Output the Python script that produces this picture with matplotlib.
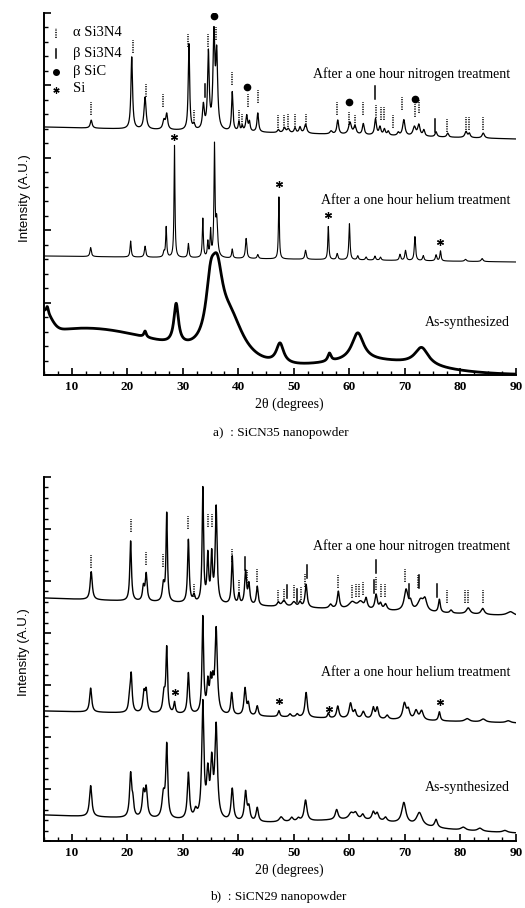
import numpy as np
import matplotlib
matplotlib.use("Agg")
import matplotlib.pyplot as plt
from matplotlib.ticker import MultipleLocator, NullFormatter

plt.rcParams['font.family'] = ['Liberation Serif', 'DejaVu Serif']

# ---- data (2theta in degrees, intensity in arbitrary units) ----
# panel a : SiCN35
a_nit_base = (248, 236)
a_nit_pos = [13.5, 20.8, 23.2, 26.6, 27.1, 31.1, 32.0, 33.7, 34.6, 35.6, 36.1, 38.9, 40.1, 40.7,
             41.5, 42.0, 43.5, 47.2, 48.3, 49.0, 50.2, 51.1, 52.1, 56.7, 57.9, 60.1, 61.0, 62.5,
             64.7, 65.5, 66.3, 67.0, 68.8, 69.8, 71.7, 72.5, 73.4, 75.6, 77.7, 81.0, 81.6, 84.1]
a_nit_h = [8, 72, 32, 9, 15, 86, 5, 24, 76, 92, 72, 39, 9, 5,
           16, 9, 19, 3, 5, 4, 5, 6, 9, 3, 14, 12, 8, 11,
           16, 8, 6, 4, 3, 16, 9, 11, 6, 5, 4, 6, 4, 5]
a_nit_w = [0.4, 0.35, 0.45, 0.5, 0.4, 0.3, 0.4, 0.4, 0.35, 0.4, 0.4, 0.3, 0.3, 0.3,
           0.4, 0.3, 0.35, 0.4, 0.5, 0.5, 0.4, 0.4, 0.5, 0.5, 0.4, 0.6, 0.5, 0.4,
           0.4, 0.4, 0.4, 0.4, 0.4, 0.5, 0.6, 0.5, 0.4, 0.4, 0.4, 0.5, 0.4, 0.5]

a_hel_base = (119, 113)
a_hel_pos = [13.4, 20.6, 23.2, 26.6, 27.0, 28.5, 31.0, 33.6, 34.5, 35.0, 35.7, 36.1, 38.9, 41.4,
             43.5, 47.3, 52.1, 56.2, 57.8, 60.0, 61.5, 63.0, 64.6, 65.6, 69.1, 70.1, 71.8, 73.3,
             75.6, 76.4, 80.9, 83.9]
a_hel_h = [9, 16, 11, 5, 30, 112, 14, 39, 15, 26, 108, 36, 9, 20,
           4, 62, 9, 33, 6, 36, 4, 3, 4, 3, 6, 10, 24, 5,
           6, 10, 2, 3]
a_hel_w = [0.3, 0.25, 0.3, 0.3, 0.22, 0.2, 0.25, 0.22, 0.22, 0.22, 0.22, 0.4, 0.25, 0.3,
           0.3, 0.2, 0.3, 0.22, 0.3, 0.25, 0.3, 0.3, 0.3, 0.3, 0.3, 0.3, 0.28, 0.3,
           0.3, 0.25, 0.4, 0.4]

a_syn_base = (0, 0)
a_syn_pos = [5.6, 23.2, 28.8, 35.0, 36.2, 38.5, 47.5, 56.4, 61.5, 73.0]
a_syn_h = [6, 6, 40, 50, 60, 42, 20, 8, 28, 18]
a_syn_w = [0.4, 0.5, 1.0, 2.0, 2.4, 6.0, 1.6, 0.7, 2.6, 3.0]
a_syn_hump_pos = [5.0, 12.0, 64.0]
a_syn_hump_h = [22, 46, 13]
a_syn_hump_w = [3.0, 36.0, 24.0]

# panel b : SiCN29
b_nit_base = (243, 225)
b_nit_pos = [13.5, 20.6, 22.9, 23.4, 26.5, 27.1, 31.0, 32.0, 33.6, 34.5, 35.2, 36.0, 38.9, 40.1,
             41.3, 41.9, 43.4, 47.2, 48.2, 50.0, 51.1, 52.2, 56.6, 58.0, 60.5, 62.0, 63.0, 64.8,
             65.6, 66.5, 70.2, 71.0, 72.8, 73.6, 76.2, 78.3, 81.4, 84.0, 89.0]
b_nit_h = [28, 60, 14, 27, 17, 88, 63, 7, 114, 46, 46, 96, 48, 10,
           33, 20, 19, 4, 6, 5, 5, 23, 4, 17, 7, 7, 10, 15,
           6, 6, 21, 8, 11, 11, 13, 3, 6, 6, 4]
b_nit_w = [0.45, 0.35, 0.4, 0.4, 0.45, 0.3, 0.35, 0.4, 0.3, 0.35, 0.35, 0.4, 0.35, 0.35,
           0.4, 0.4, 0.4, 0.5, 0.8, 0.8, 0.5, 0.45, 0.6, 0.45, 1.5, 1.2, 0.5, 0.5,
           0.5, 0.6, 0.8, 0.6, 1.2, 0.8, 0.4, 0.5, 0.8, 0.7, 1.5]

b_hel_base = (130, 118)
b_hel_pos = [13.4, 20.4, 20.7, 23.0, 23.4, 26.6, 27.1, 28.5, 31.0, 33.6, 34.5, 35.0, 35.4, 36.0,
             38.8, 41.2, 41.8, 43.4, 47.3, 49.3, 50.6, 52.2, 56.2, 57.9, 60.2, 61.0, 62.5, 64.3,
             65.0, 66.8, 69.9, 70.6, 72.0, 73.0, 76.2, 81.2, 84.1, 88.6]
b_hel_h = [24, 12, 37, 19, 21, 19, 64, 11, 41, 96, 28, 28, 24, 84,
           22, 27, 11, 10, 6, 3, 3, 25, 5, 12, 15, 7, 7, 11,
           11, 4, 16, 9, 9, 9, 9, 3, 3, 2]
b_hel_w = [0.45, 0.4, 0.4, 0.45, 0.45, 0.5, 0.35, 0.35, 0.4, 0.35, 0.4, 0.4, 0.4, 0.5,
           0.4, 0.45, 0.4, 0.45, 0.4, 0.5, 0.5, 0.5, 0.35, 0.5, 0.6, 0.5, 0.6, 0.5,
           0.5, 0.6, 0.7, 0.6, 0.7, 0.7, 0.4, 1.0, 1.0, 1.0]

b_syn_base = (26, 8)
b_syn_pos = [13.4, 20.6, 21.0, 22.9, 23.4, 26.5, 27.1, 31.0, 32.3, 33.6, 34.5, 35.2, 36.0, 38.9,
             41.3, 41.9, 43.4, 47.7, 49.6, 50.8, 52.1, 57.7, 60.3, 61.1, 62.4, 64.3, 65.0, 66.5,
             69.8, 72.6, 75.6, 80.5, 83.5, 88.0]
b_syn_h = [31, 43, 14, 24, 28, 23, 72, 46, 8, 115, 42, 52, 92, 32,
           29, 13, 14, 5, 4, 3, 21, 10, 6, 6, 5, 8, 7, 4,
           21, 13, 8, 3, 3, 2]
b_syn_w = [0.5, 0.45, 0.4, 0.5, 0.5, 0.6, 0.4, 0.45, 0.6, 0.45, 0.5, 0.5, 0.55, 0.5,
           0.5, 0.5, 0.5, 0.8, 0.6, 0.6, 0.6, 0.6, 1.0, 0.8, 0.6, 0.6, 0.6, 0.6,
           0.9, 1.2, 0.6, 1.0, 1.0, 1.0]
b_syn_hump_pos = [62.0]
b_syn_hump_h = [7]
b_syn_hump_w = [20.0]

# phase markers: position, lower end of the marker
a_alpha_pos = [13.5, 21.0, 23.3, 26.5, 31.0, 32.0, 34.6, 36.0, 38.9, 40.1, 40.7, 41.8, 43.5, 47.2,
               48.2, 49.0, 50.2, 52.1, 57.8, 60.0, 61.0, 62.5, 64.8, 65.6, 66.3, 67.8, 69.5, 71.8,
               72.5, 77.6, 81.0, 81.6, 84.0]
a_alpha_y = [260, 322, 278, 268, 328, 252, 328, 335, 290, 252, 248, 268, 272, 247,
             247, 248, 248, 248, 260, 250, 247, 260, 257, 255, 255, 247, 265, 258,
             262, 243, 245, 245, 245]
a_beta_pos = [34.0, 64.6, 75.5]
a_beta_y = [278, 276, 243]
a_sic_pos = [35.7, 41.5, 60.0, 71.8]
a_sic_y = [359, 288, 273, 276]
a_si_pos = [28.4, 47.3, 56.1, 76.4]
a_si_y = [238, 191, 160, 133]

b_alpha_pos = [13.5, 20.6, 23.3, 26.5, 31.0, 32.0, 34.6, 35.2, 38.9, 40.1, 41.6, 43.4, 47.2, 48.2,
               50.0, 51.2, 52.0, 57.9, 60.4, 61.1, 61.7, 62.5, 64.8, 65.6, 66.4, 70.0, 72.4, 77.6,
               80.8, 81.4, 84.0]
b_alpha_y = [273, 309, 276, 274, 312, 244, 314, 314, 279, 248, 258, 259, 238, 239,
             243, 241, 254, 253, 243, 244, 244, 246, 251, 244, 244, 259, 253, 238,
             238, 238, 238]
b_beta_pos = [36.0, 41.2, 48.8, 50.5, 52.3, 64.4, 64.8, 70.8, 72.6, 75.8]
b_beta_y = [318, 271, 243, 239, 263, 248, 268, 244, 253, 244]
b_si_pos = [28.6, 47.3, 56.3, 76.3]
b_si_y = [149, 140, 132, 139]

legend_labels = [u'\u03b1 Si3N4', u'\u03b2 Si3N4', u'\u03b2 SiC', 'Si']
trace_labels = ['After a one hour nitrogen treatment', 'After a one hour helium treatment',
                'As-synthesized']
a_label_y = [301, 175, 52]
b_label_y = [295, 169, 53]

x = np.linspace(5, 90, 8501)


def lor(pos, h, w):
    out = np.zeros_like(x)
    for p, hh, ww in zip(pos, h, w):
        out += hh / (1 + ((x - p) / (ww / 2.0)) ** 2)
    return out


def gau(pos, h, w):
    out = np.zeros_like(x)
    for p, hh, ww in zip(pos, h, w):
        out += hh * np.exp(-4 * np.log(2) * ((x - p) / ww) ** 2)
    return out


def trace(base, pos, h, w):
    b = base[0] + (base[1] - base[0]) * (x - 5) / 85.0
    return b + lor(pos, h, w)


def markers(ax, pos, y, style):
    for p, yy in zip(pos, y):
        if style == 'alpha':
            ax.plot([p, p], [yy, yy + 13], color='k', lw=1.1, ls=(0, (0.8, 0.8)))
        else:
            ax.plot([p, p], [yy, yy + 13], color='k', lw=1.1)


def setup(ax, top, ymajor):
    ax.set_xlim(5, 90)
    ax.set_ylim(0, top)
    for s in ['top', 'right']:
        ax.spines[s].set_visible(False)
    for s in ['left', 'bottom']:
        ax.spines[s].set_linewidth(1.4)
    ax.xaxis.set_major_locator(MultipleLocator(10))
    ax.xaxis.set_minor_locator(MultipleLocator(2.5))
    ax.yaxis.set_major_locator(MultipleLocator(ymajor))
    ax.yaxis.set_minor_locator(MultipleLocator(ymajor / 5.0))
    ax.yaxis.set_major_formatter(NullFormatter())
    ax.tick_params(which='major', direction='in', length=5, width=1.2, labelsize=9.5, pad=4)
    ax.tick_params(which='minor', direction='in', length=3, width=1.0)
    ax.set_xticks([10, 20, 30, 40, 50, 60, 70, 80, 90])
    for lab in ax.get_xticklabels():
        lab.set_fontweight('bold')


fig = plt.figure(figsize=(5.25, 9.08), dpi=100)
ax_a = fig.add_axes([44 / 525, 1 - 375 / 908, 472 / 525, 362 / 908])
ax_b = fig.add_axes([44 / 525, 1 - 841 / 908, 472 / 525, 364 / 908])

# panel a
setup(ax_a, 362, 72.4)
ax_a.plot(x, trace(a_nit_base, a_nit_pos, a_nit_h, a_nit_w), color='k', lw=0.9)
ax_a.plot(x, trace(a_hel_base, a_hel_pos, a_hel_h, a_hel_w), color='k', lw=0.8)
ax_a.plot(x, trace(a_syn_base, a_syn_pos, a_syn_h, a_syn_w)
          + gau(a_syn_hump_pos, a_syn_hump_h, a_syn_hump_w), color='k', lw=2.0)
markers(ax_a, a_alpha_pos, a_alpha_y, 'alpha')
markers(ax_a, a_beta_pos, a_beta_y, 'beta')
ax_a.plot(a_sic_pos, a_sic_y, 'o', color='k', ms=4.5)
ax_a.plot(a_si_pos, a_si_y, marker=(6, 2, 0), ls='none', color='k', ms=5, mew=0.9)

# legend drawn by hand
ax_a.plot([7.2, 7.2], [337, 347], color='k', lw=1.1, ls=(0, (0.8, 0.8)))
ax_a.plot([7.2, 7.2], [317, 326], color='k', lw=1.1)
ax_a.plot([7.2], [303], 'o', color='k', ms=4)
ax_a.plot([7.2], [285], marker=(6, 2, 0), color='k', ms=4.5, mew=0.9)
for lab, yy in zip(legend_labels, [342, 322, 303, 286]):
    ax_a.text(10.2, yy, lab, fontsize=10.5, va='center', ha='left')

for lab, yy in zip(trace_labels, a_label_y):
    ax_a.text(88.9, yy, lab, fontsize=10, va='center', ha='right')

# panel b
setup(ax_b, 364, 52)
ax_b.plot(x, trace(b_nit_base, b_nit_pos, b_nit_h, b_nit_w), color='k', lw=1.0)
ax_b.plot(x, trace(b_hel_base, b_hel_pos, b_hel_h, b_hel_w), color='k', lw=1.0)
ax_b.plot(x, trace(b_syn_base, b_syn_pos, b_syn_h, b_syn_w)
          + gau(b_syn_hump_pos, b_syn_hump_h, b_syn_hump_w), color='k', lw=1.0)
markers(ax_b, b_alpha_pos, b_alpha_y, 'alpha')
markers(ax_b, b_beta_pos, b_beta_y, 'beta')
ax_b.plot(b_si_pos, b_si_y, marker=(6, 2, 0), ls='none', color='k', ms=5, mew=0.9)

for lab, yy in zip(trace_labels, b_label_y):
    ax_b.text(88.9, yy, lab, fontsize=10, va='center', ha='right')

# axis titles and captions
fig.text(289 / 525, 1 - 404 / 908, u'2\u03b8 (degrees)', fontsize=10, ha='center', va='center')
fig.text(289 / 525, 1 - 870 / 908, u'2\u03b8 (degrees)', fontsize=10, ha='center', va='center')
fig.text(281 / 525, 1 - 433 / 908, 'a)  : SiCN35 nanopowder', fontsize=9.5, ha='center', va='center')
fig.text(278 / 525, 1 - 897 / 908, 'b)  : SiCN29 nanopowder', fontsize=9.5, ha='center', va='center')
fig.text(25 / 525, 1 - 198 / 908, 'Intensity (A.U.)', fontsize=9.5, rotation=90,
         ha='center', va='center', family=['Liberation Sans', 'DejaVu Sans'])
fig.text(24 / 525, 1 - 652 / 908, 'Intensity (A.U.)', fontsize=9.5, rotation=90,
         ha='center', va='center', family=['Liberation Sans', 'DejaVu Sans'])

fig.savefig('out.png', dpi=100)
